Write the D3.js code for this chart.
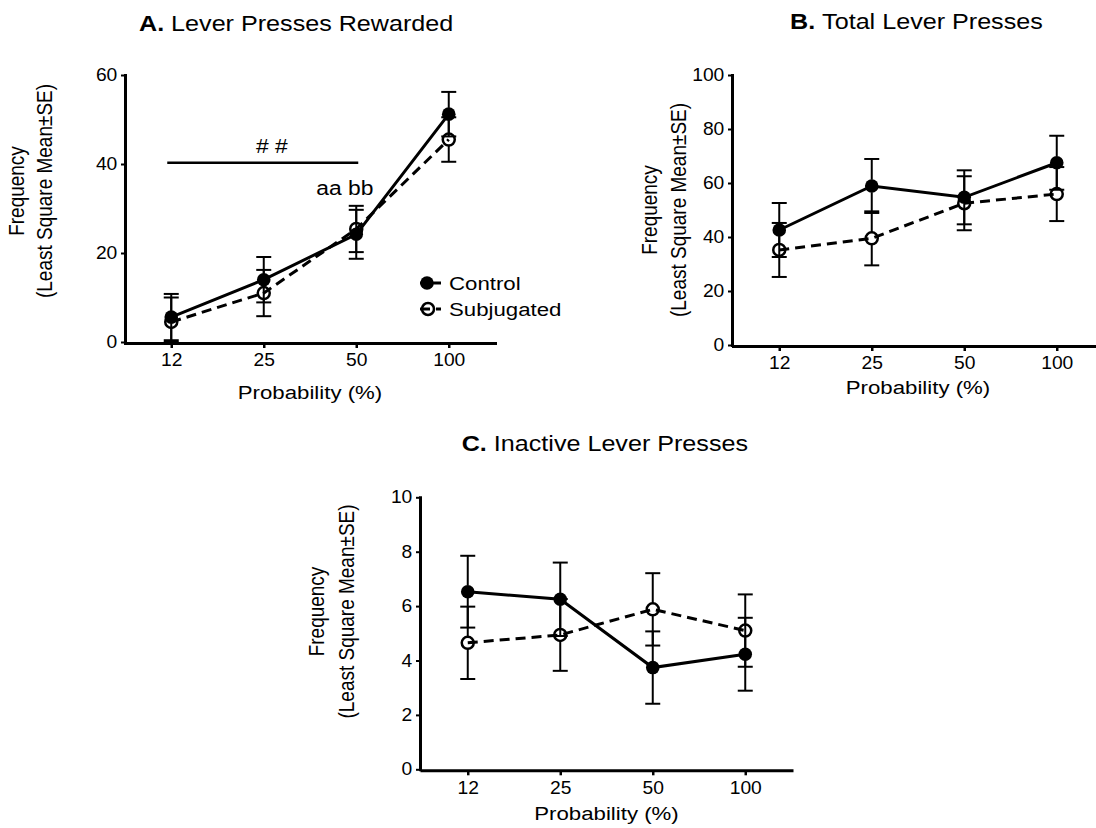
<!DOCTYPE html>
<html>
<head>
<meta charset="utf-8">
<script src="https://cdn.jsdelivr.net/npm/d3@7"></script>
<style>
  body { margin: 0; background: #fff; }
  text { font-family: Arial, "Liberation Sans", Helvetica, sans-serif; fill: #000; }
</style>
</head>
<body>
<div class="D3"></div>
<script>
// x categories (probability of reward, %)
var probLabels = ["12", "25", "50", "100"];

// A. lever presses rewarded
var rewardedControl = [5.6, 14.0, 24.2, 51.2];
var rewardedControlSE = [5.2, 5.1, 5.5, 5.0];
var rewardedSubj = [4.5, 11.0, 25.4, 45.5];
var rewardedSubjSE = [5.5, 5.2, 5.2, 5.0];
var rewardedTicks = [0, 20, 40, 60];

// B. total lever presses
var totalControl = [42.6, 58.9, 54.7, 67.5];
var totalControlSE = [10.0, 10.0, 10.0, 10.0];
var totalSubj = [35.2, 39.5, 52.5, 55.9];
var totalSubjSE = [10.0, 10.0, 10.0, 10.0];
var totalTicks = [0, 20, 40, 60, 80, 100];

// C. inactive lever presses
var inactiveControl = [6.53, 6.25, 3.74, 4.23];
var inactiveControlSE = [1.32, 1.35, 1.33, 1.34];
var inactiveSubj = [4.65, 4.94, 5.88, 5.10];
var inactiveSubjSE = [1.33, 1.32, 1.33, 1.33];
var inactiveTicks = [0, 2, 4, 6, 8, 10];

var seriesNames = ["Control", "Subjugated"];

// the source figure is stretched a little horizontally, text too
var SX = 1.17;
var SX_TICK = 1.1;

var svg = d3.select(".D3").append("svg")
  .attr("width", 1096)
  .attr("height", 828);

function stretchText(parent, x, y, str, size, anchor) {
  var g = parent.append("g").attr("transform", `translate(${x},${y}) scale(${SX},1)`);
  var t = g.append("text")
    .attr("text-anchor", anchor || "middle")
    .style("font-size", size + "px")
    .text(str);
  return t;
}

function drawPanel(cfg) {
  var x = d3.scalePoint()
    .domain(probLabels)
    .range([cfg.x0, cfg.x0 + 370])
    .padding(0.5);
  var y = d3.scaleLinear()
    .domain([0, cfg.ticks[cfg.ticks.length - 1]])
    .range([cfg.y0, cfg.y1]);

  var g = svg.append("g");

  // x axis
  var xAxis = g.append("g")
    .attr("transform", `translate(0, ${cfg.y0 + 1})`)
    .call(d3.axisBottom(x).tickSize(5).tickSizeOuter(0).tickPadding(6));
  xAxis.select(".domain").attr("stroke-width", 3).attr("stroke-linecap", "square");
  xAxis.selectAll(".tick line").attr("stroke-width", 2.5);
  xAxis.selectAll(".tick text")
    .attr("transform", `scale(${SX_TICK},1)`)
    .style("font-size", "17.5px")
    .style("font-family", "Arial, 'Liberation Sans', sans-serif");

  // y axis
  var yAxis = g.append("g")
    .attr("transform", `translate(${cfg.yAxisX}, 0)`)
    .call(d3.axisLeft(y).tickValues(cfg.ticks).tickSize(4).tickSizeOuter(0).tickPadding(3));
  yAxis.select(".domain").attr("stroke-width", 3).attr("stroke-linecap", "square");
  yAxis.selectAll(".tick line").attr("stroke-width", 2);
  yAxis.selectAll(".tick text")
    .attr("transform", `scale(${SX_TICK},1)`)
    .style("font-size", "17.5px")
    .style("font-family", "Arial, 'Liberation Sans', sans-serif");

  // axis titles
  stretchText(g, (cfg.x0 + cfg.x0 + 370) / 2, cfg.y0 + cfg.xTitleDy, "Probability (%)", 19, "middle");

  var yt = g.append("g")
    .attr("transform", `translate(${cfg.yAxisX}, ${cfg.yTitleCy}) scale(${SX},1) rotate(-90)`);
  yt.append("text")
    .attr("text-anchor", "middle")
    .attr("y", -cfg.yTitleOff1 / SX)
    .style("font-size", "19px")
    .text("Frequency");
  yt.append("text")
    .attr("text-anchor", "middle")
    .attr("y", -cfg.yTitleOff2 / SX)
    .style("font-size", "19px")
    .text("(Least Square Mean±SE)");

  // panel title
  var tt = stretchText(g, cfg.titleX, cfg.titleY, "", 21.5, "start");
  tt.append("tspan").style("font-weight", "bold").text(cfg.letter + " ");
  tt.append("tspan").text(cfg.title);

  var line = d3.line()
    .x((d, i) => x(probLabels[i]))
    .y(d => y(d));

  // connecting lines
  g.append("path")
    .datum(cfg.subj)
    .attr("d", line)
    .attr("fill", "none")
    .attr("stroke", "#000")
    .attr("stroke-width", 3)
    .attr("stroke-dasharray", "10,6");
  g.append("path")
    .datum(cfg.control)
    .attr("d", line)
    .attr("fill", "none")
    .attr("stroke", "#000")
    .attr("stroke-width", 3);

  // error bars, drawn from the marker edge outwards
  var r = 6.3;
  var capHalf = 7.5;
  [[cfg.control, cfg.controlSE], [cfg.subj, cfg.subjSE]].forEach(function (s) {
    s[0].forEach(function (m, i) {
      var cx = x(probLabels[i]);
      var up = m + s[1][i];
      var lo = Math.max(0, m - s[1][i]);
      var eb = g.append("g").attr("stroke", "#000").attr("stroke-width", 2);
      eb.append("line").attr("x1", cx).attr("x2", cx).attr("y1", y(m) - r).attr("y2", y(up));
      eb.append("line").attr("x1", cx - capHalf).attr("x2", cx + capHalf).attr("y1", y(up)).attr("y2", y(up));
      if (y(lo) > y(m) + r) {
        eb.append("line").attr("x1", cx).attr("x2", cx).attr("y1", y(m) + r).attr("y2", y(lo));
      }
      eb.append("line").attr("x1", cx - capHalf).attr("x2", cx + capHalf).attr("y1", y(lo)).attr("y2", y(lo));
    });
  });

  // markers
  g.selectAll(".subjDot")
    .data(cfg.subj)
    .enter()
    .append("circle")
    .attr("cx", (d, i) => x(probLabels[i]))
    .attr("cy", d => y(d))
    .attr("r", 6)
    .attr("fill", "none")
    .attr("stroke", "#000")
    .attr("stroke-width", 2.5);
  g.selectAll(".ctrlDot")
    .data(cfg.control)
    .enter()
    .append("circle")
    .attr("cx", (d, i) => x(probLabels[i]))
    .attr("cy", d => y(d))
    .attr("r", 6.8)
    .attr("fill", "#000");

  return { g: g, x: x, y: y };
}

// A
var pa = drawPanel({
  x0: 125, yAxisX: 125, y0: 342, y1: 75, ticks: rewardedTicks,
  control: rewardedControl, controlSE: rewardedControlSE,
  subj: rewardedSubj, subjSE: rewardedSubjSE,
  xTitleDy: 57, yTitleCy: 191, yTitleOff1: 101.5, yTitleOff2: 72.7,
  letter: "A.", title: "Lever Presses Rewarded", titleX: 139, titleY: 31
});

// B
drawPanel({
  x0: 733, yAxisX: 732, y0: 345, y1: 75, ticks: totalTicks,
  control: totalControl, controlSE: totalControlSE,
  subj: totalSubj, subjSE: totalSubjSE,
  xTitleDy: 49, yTitleCy: 210, yTitleOff1: 75.5, yTitleOff2: 46,
  letter: "B.", title: "Total Lever Presses", titleX: 790, titleY: 28.5
});

// C
drawPanel({
  x0: 421.5, yAxisX: 420, y0: 769.3, y1: 497.3, ticks: inactiveTicks,
  control: inactiveControl, controlSE: inactiveControlSE,
  subj: inactiveSubj, subjSE: inactiveSubjSE,
  xTitleDy: 51, yTitleCy: 611.5, yTitleOff1: 96.4, yTitleOff2: 66.4,
  letter: "C.", title: "Inactive Lever Presses", titleX: 461.7, titleY: 451
});

// significance marks on panel A
var ax = pa.x, ay = pa.y;
pa.g.append("line")
  .attr("x1", ax("12") - 4)
  .attr("x2", ax("50") + 2)
  .attr("y1", ay(40.3))
  .attr("y2", ay(40.3))
  .attr("stroke", "#000")
  .attr("stroke-width", 2.5);
stretchText(pa.g, (ax("12") + ax("50")) / 2 + 8, ay(42.5), "# #", 19.5, "middle");
stretchText(pa.g, ax("50") - 40, ay(33), "aa bb", 19.5, "start");

// legend on panel A
var legend = pa.g.append("g");
seriesNames.forEach(function (name, i) {
  var ly = 283 + i * 26;
  legend.append("line")
    .attr("x1", 420).attr("x2", 441)
    .attr("y1", ly).attr("y2", ly)
    .attr("stroke", "#000")
    .attr("stroke-width", 3)
    .attr("stroke-dasharray", i === 0 ? null : "10,6");
  if (i === 0) {
    legend.append("circle").attr("cx", 427).attr("cy", ly).attr("r", 6.8).attr("fill", "#000");
  } else {
    legend.append("circle").attr("cx", 428).attr("cy", ly).attr("r", 6)
      .attr("fill", "none").attr("stroke", "#000").attr("stroke-width", 2.5);
  }
  stretchText(legend, 449, ly + 7, name, 19, "start");
});
</script>
</body>
</html>
